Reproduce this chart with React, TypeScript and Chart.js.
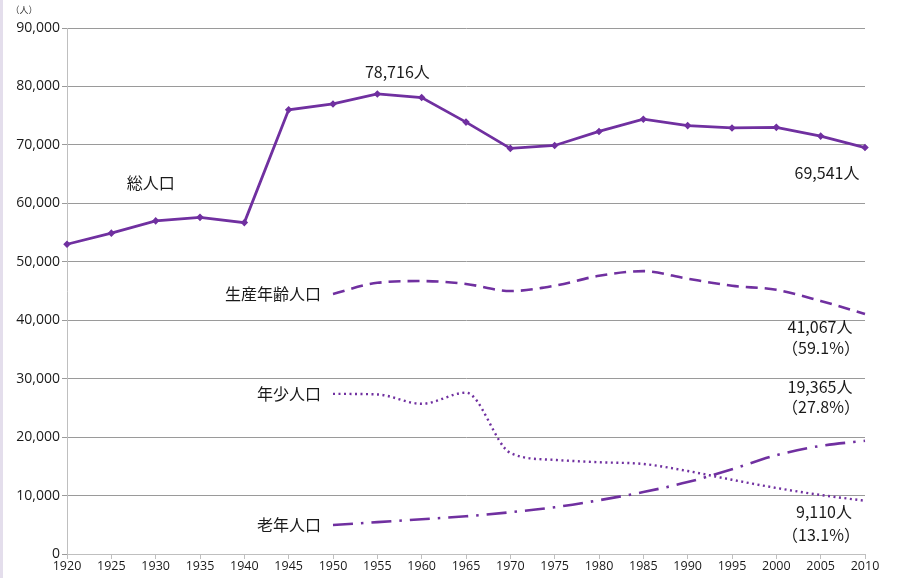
import React, { useEffect, useRef } from "react";
import { Chart, registerables } from "chart.js";

Chart.register(...registerables);

const years = ["1920","1925","1930","1935","1940","1945","1950","1955","1960","1965","1970","1975","1980","1985","1990","1995","2000","2005","2010"];
const total = [53000,54900,57000,57600,56700,76000,77000,78716,78100,73900,69400,69900,72300,74400,73300,72900,73000,71500,69541];
const working = [null,null,null,null,null,null,44500,46400,46700,46200,45000,45900,47600,48400,47100,45900,45200,43300,41067];
const young = [null,null,null,null,null,null,27400,27300,25700,27600,17300,16100,15700,15400,14200,12700,11300,10100,9110];
const elderly = [null,null,null,null,null,null,4950,5450,5950,6450,7150,8000,9200,10600,12300,14500,16900,18500,19365];
const yTicks = [0,10000,20000,30000,40000,50000,60000,70000,80000,90000];

const PURPLE = "#7030A0";
const FONT = "'Noto Sans CJK JP', 'Noto Sans', sans-serif";
const TICKFONT = "'Open Sans', 'Noto Sans', sans-serif";

const labelPlugin = {
  id: "labels",
  afterDraw(chart: any) {
    const ctx = chart.ctx;
    const x = chart.scales.x;
    const y = chart.scales.y;
    ctx.save();
    ctx.fillStyle = "#1a1a1a";
    ctx.textBaseline = "middle";
    ctx.font = `16px ${FONT}`;
    const put = (t: string, xi: number, dx: number, yv: number, align: CanvasTextAlign) => {
      ctx.textAlign = align;
      ctx.fillText(t, x.getPixelForValue(xi) + dx, y.getPixelForValue(yv));
    };
    put("78,716人", 7, 20, 82400, "center");
    put("69,541人", 18, -38, 65200, "center");
    put("総人口", 2, -5, 63500, "center");
    put("生産年齢人口", 6, -12, 44500, "right");
    put("年少人口", 6, -12, 27400, "right");
    put("老年人口", 6, -12, 4950, "right");
    put("41,067人", 18, -45, 38900, "center");
    put("（59.1%）", 18, -44, 35200, "center");
    put("19,365人", 18, -45, 28600, "center");
    put("（27.8%）", 18, -44, 25200, "center");
    put("9,110人", 18, -41, 7250, "center");
    put("（13.1%）", 18, -44, 3300, "center");
    ctx.font = `9px ${FONT}`;
    ctx.textAlign = "center";
    ctx.fillStyle = "#333";
    ctx.fillText("（人）", 24, 10);
    ctx.restore();
  },
};

export default function App() {
  const ref = useRef<HTMLCanvasElement>(null);
  useEffect(() => {
    const chart = new Chart(ref.current!, {
      type: "line",
      data: {
        labels: years,
        datasets: [
          { data: total, borderColor: PURPLE, backgroundColor: PURPLE, borderWidth: 2.8, pointStyle: "rectRot", pointRadius: 1.8, tension: 0 },
          { data: working, borderColor: PURPLE, borderWidth: 2.6, borderDash: [12, 7], pointRadius: 0, tension: 0.4, cubicInterpolationMode: "monotone" },
          { data: young, borderColor: PURPLE, borderWidth: 2.4, borderDash: [2, 3.5], pointRadius: 0, tension: 0.4, cubicInterpolationMode: "monotone" },
          { data: elderly, borderColor: PURPLE, borderWidth: 2.6, borderDash: [20, 8, 2.5, 8], pointRadius: 0, tension: 0.4, cubicInterpolationMode: "monotone" },
        ] as any,
      },
      options: {
        animation: false,
        responsive: false,
        spanGaps: false,
        layout: { padding: { top: 28, right: 32, left: 0, bottom: 0 } },
        plugins: { legend: { display: false }, tooltip: { enabled: false } },
        scales: {
          x: {
            offset: false,
            afterFit: (s: any) => { s.height = 24; },
            grid: { drawOnChartArea: false, color: "#BFBFBF", tickLength: 5 },
            border: { color: "#BFBFBF" },
            ticks: { color: "#1a1a1a", font: { size: 12.5, family: TICKFONT }, padding: 0, maxRotation: 0, autoSkip: false },
          },
          y: {
            min: 0,
            max: 90000,
            afterFit: (s: any) => { s.width = 67; },
            afterBuildTicks: (s: any) => { s.ticks = yTicks.map((v) => ({ value: v })); },
            grid: { color: "#9A9A9A", tickLength: 5 },
            border: { color: "#BFBFBF" },
            ticks: { color: "#1a1a1a", font: { size: 14, family: TICKFONT }, padding: 2, callback: (v: any) => Number(v).toLocaleString("en-US") },
          },
        },
      },
      plugins: [labelPlugin],
    });
    return () => chart.destroy();
  }, []);
  return (
    <div style={{ position: "fixed", left: 0, top: 0, width: 897, height: 578, background: "#fff" }}>
      <div style={{ position: "absolute", left: 0, top: 0, width: 3, height: 578, background: "#E4DEEC" }} />
      <canvas ref={ref} width={897} height={578} style={{ position: "absolute", left: 0, top: 0 }} />
    </div>
  );
}
